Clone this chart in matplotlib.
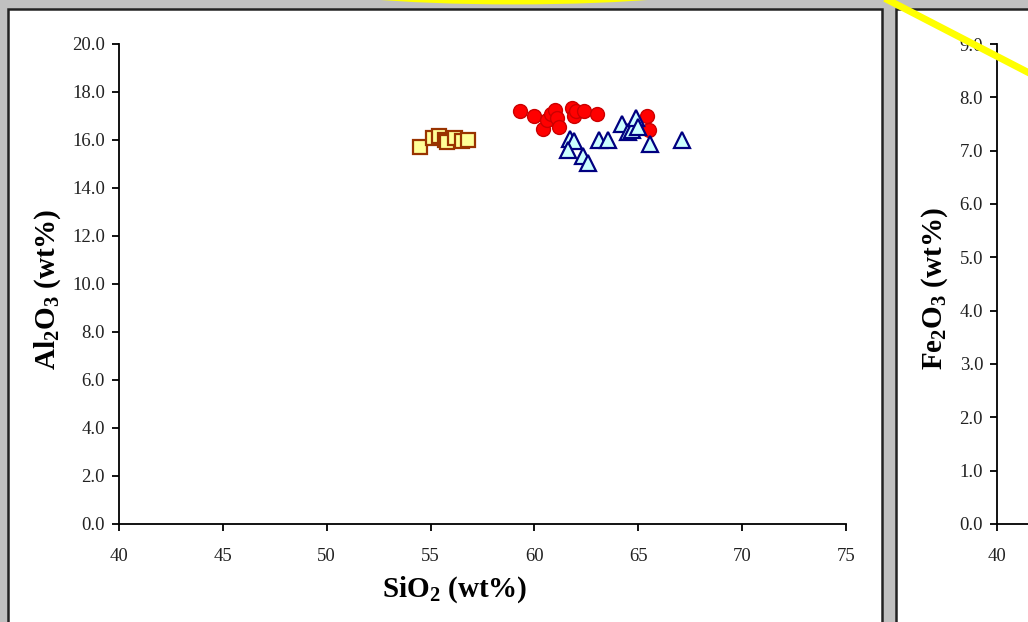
import matplotlib
matplotlib.use("Agg")
import matplotlib.pyplot as plt
from matplotlib.patches import Rectangle, Ellipse
from matplotlib.lines import Line2D

plt.rcParams['font.family'] = ['Liberation Serif', 'DejaVu Serif']
plt.rcParams['mathtext.fontset'] = 'custom'
plt.rcParams['mathtext.rm'] = 'Liberation Serif'
plt.rcParams['mathtext.bf'] = 'Liberation Serif:bold'

W, H = 1028, 622

# sample groups, SiO2 vs Al2O3 (wt%)
sq_sio2 = [54.5, 55.1, 55.4, 55.7, 55.8, 56.2, 56.5, 56.8]
sq_al2o3 = [15.7, 16.1, 16.15, 16.0, 15.9, 16.1, 15.95, 16.0]

ci_sio2 = [59.3, 60.0, 60.4, 60.6, 60.8, 61.0, 61.1, 61.2, 61.8, 61.9, 62.0, 62.4, 63.0, 65.4, 65.5]
ci_al2o3 = [17.2, 17.0, 16.45, 16.85, 17.1, 17.25, 16.9, 16.55, 17.35, 17.0, 17.2, 17.2, 17.1, 17.0, 16.4]

tr_sio2 = [61.7, 61.9, 61.6, 62.35, 62.6, 63.1, 63.55, 64.2, 64.5, 64.7, 64.9, 65.0, 65.55, 67.1]
tr_al2o3 = [16.05, 15.95, 15.6, 15.35, 15.05, 16.0, 16.0, 16.65, 16.35, 16.4, 16.9, 16.55, 15.85, 16.0]

x_ticks = [40, 45, 50, 55, 60, 65, 70, 75]
al_ticks = [0, 2, 4, 6, 8, 10, 12, 14, 16, 18, 20]
fe_ticks = [0, 1, 2, 3, 4, 5, 6, 7, 8, 9]


def fx(px):
    return px / W


def fy(py):
    return 1 - py / H


fig = plt.figure(figsize=(W / 100, H / 100), dpi=100, facecolor='#c0c0c0')

# chart panels (white boxes with dark frame)
for x0, x1 in [(8, 882), (896, 1040)]:
    fig.patches.append(Rectangle((fx(x0), fy(640)), fx(x1) - fx(x0), fy(9) - fy(640),
                                 transform=fig.transFigure, facecolor='white',
                                 edgecolor='#222222', linewidth=1.8, zorder=-5))


def style_axes(ax, xticks, yticks, ymax):
    ax.set_xlim(40, 75)
    ax.set_ylim(0, ymax)
    ax.set_xticks(xticks)
    ax.set_yticks(yticks)
    ax.set_yticklabels([f'{v:.1f}' for v in yticks])
    for s in ['top', 'right']:
        ax.spines[s].set_visible(False)
    for s in ['left', 'bottom']:
        ax.spines[s].set_linewidth(1.3)
    ax.tick_params(direction='out', length=5, width=1.3, labelsize=13.5, labelcolor='#222222')
    ax.tick_params(axis='y', pad=5)
    ax.tick_params(axis='x', pad=12)
    ax.set_facecolor('none')


ax = fig.add_axes([fx(119), fy(524), fx(846) - fx(119), fy(44) - fy(524)])
style_axes(ax, x_ticks, al_ticks, 20)
ax.plot(sq_sio2, sq_al2o3, 's', ms=10, mfc='#ffff99', mec='#993300', mew=1.6, clip_on=False)
ax.plot(ci_sio2, ci_al2o3, 'o', ms=10, mfc='red', mec='#cc0000', mew=1.0, clip_on=False)
ax.plot(tr_sio2, tr_al2o3, '^', ms=11.5, mfc='#ccffff', mec='#000080', mew=1.6, clip_on=False)

fig.text(fx(455), fy(590), r'$\mathbf{SiO_2}$ (wt%)', ha='center', va='center',
         fontsize=21, fontweight='bold')
fig.text(fx(48), fy(289), r'$\mathbf{Al_2O_3}$ (wt%)', ha='center', va='center',
         fontsize=21, fontweight='bold', rotation=90)

# second chart, cut off at the right edge
ax2 = fig.add_axes([fx(997), fy(524), fx(846) - fx(119), fy(44) - fy(524)])
style_axes(ax2, x_ticks[:1], fe_ticks, 9)
fig.text(fx(935), fy(289), r'$\mathbf{Fe_2O_3}$ (wt%)', ha='center', va='center',
         fontsize=21, fontweight='bold', rotation=90)

# yellow highlight marks
fig.patches.append(Ellipse((fx(514), fy(-18)), 424 / W, 40 / H, transform=fig.transFigure,
                           fill=False, edgecolor='yellow', linewidth=3.5, zorder=5))
fig.lines.append(Line2D([fx(888), fx(1035)], [fy(0), fy(76)], transform=fig.transFigure,
                        color='yellow', linewidth=5, zorder=5))

fig.savefig('out.png', dpi=100, facecolor=fig.get_facecolor())
